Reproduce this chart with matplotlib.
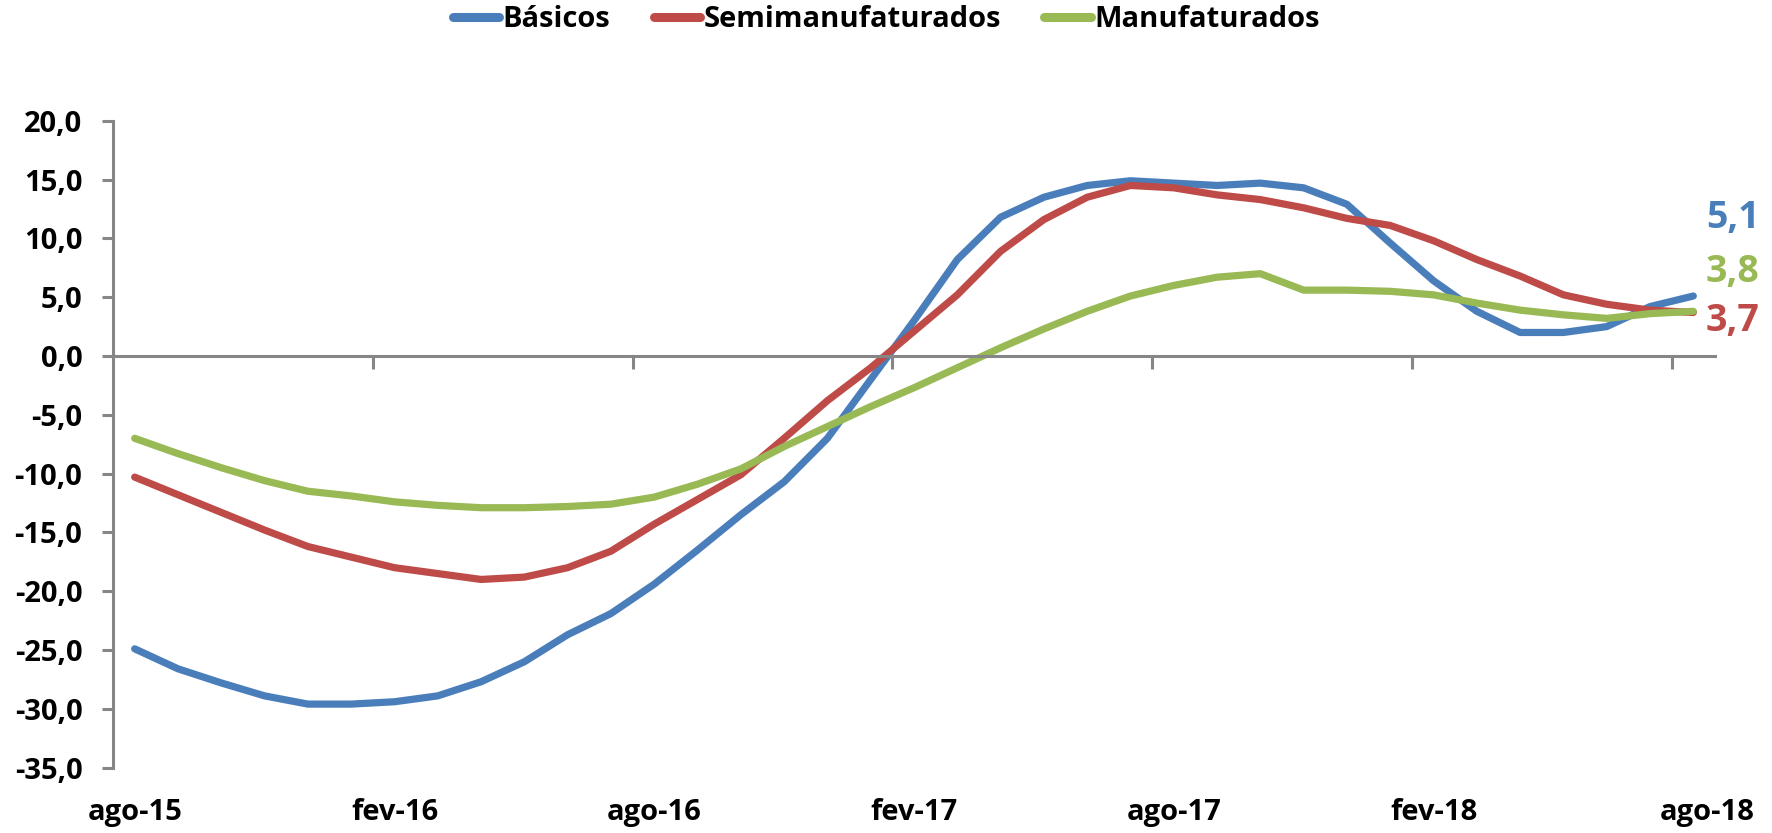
import matplotlib
matplotlib.use("Agg")
import matplotlib.pyplot as plt
from matplotlib.transforms import ScaledTranslation

# nomes das séries e cores (estilo Excel)
series_names = ["Básicos", "Semimanufaturados", "Manufaturados"]
series_colors = ["#4A7EBB", "#BE4B48", "#98B954"]

# meses de ago-15 a ago-18
meses = ["ago-15", "set-15", "out-15", "nov-15", "dez-15", "jan-16",
         "fev-16", "mar-16", "abr-16", "mai-16", "jun-16", "jul-16",
         "ago-16", "set-16", "out-16", "nov-16", "dez-16", "jan-17",
         "fev-17", "mar-17", "abr-17", "mai-17", "jun-17", "jul-17",
         "ago-17", "set-17", "out-17", "nov-17", "dez-17", "jan-18",
         "fev-18", "mar-18", "abr-18", "mai-18", "jun-18", "jul-18",
         "ago-18"]

basicos = [-24.9, -26.6, -27.8, -28.9, -29.6, -29.6, -29.4, -28.9, -27.7, -26.0,
           -23.7, -21.9, -19.4, -16.5, -13.5, -10.7, -7.0, -2.0, 3.0, 8.2,
           11.8, 13.5, 14.5, 14.9, 14.7, 14.5, 14.7, 14.3, 12.9, 9.6,
           6.4, 3.8, 2.0, 2.0, 2.5, 4.2, 5.1]
semimanufaturados = [-10.3, -11.8, -13.3, -14.8, -16.2, -17.1, -18.0, -18.5, -19.0, -18.8,
                     -18.0, -16.6, -14.3, -12.2, -10.1, -7.0, -3.8, -1.0, 2.1, 5.2,
                     8.9, 11.6, 13.5, 14.5, 14.3, 13.7, 13.3, 12.6, 11.7, 11.1,
                     9.8, 8.2, 6.8, 5.2, 4.4, 3.9, 3.7]
manufaturados = [-7.0, -8.3, -9.5, -10.6, -11.5, -11.9, -12.4, -12.7, -12.9, -12.9,
                 -12.8, -12.6, -12.0, -10.9, -9.6, -7.7, -6.0, -4.3, -2.7, -1.0,
                 0.7, 2.3, 3.8, 5.1, 6.0, 6.7, 7.0, 5.6, 5.6, 5.5,
                 5.2, 4.5, 3.9, 3.5, 3.2, 3.6, 3.8]

y_ticks = [20, 15, 10, 5, 0, -5, -10, -15, -20, -25, -30, -35]

# deslocamento (pontos) dos rótulos finais em relação ao último ponto
label_offsets = [(9, 56), (9, -6), (9, 28)]

plt.rcParams["font.family"] = ["Open Sans", "DejaVu Sans"]
plt.rcParams["font.weight"] = "bold"

AXIS_GRAY = "#868686"

fig = plt.figure(figsize=(17.72, 8.33), dpi=100)
ax = fig.add_axes([0.0638, 0.0785, 0.9040, 0.7765])

x = list(range(len(meses)))
all_series = [basicos, semimanufaturados, manufaturados]
for nome, cor, vals in zip(series_names, series_colors, all_series):
    ax.plot(x, vals, color=cor, lw=5.2, label=nome, solid_capstyle="round",
            solid_joinstyle="round")

ax.set_xlim(-0.5, len(meses) - 0.5)
ax.set_ylim(-35, 20)

# eixo y
ax.set_yticks(y_ticks)
ax.set_yticklabels([f"{v:.1f}".replace(".", ",") for v in y_ticks])
ax.tick_params(axis="y", direction="out", length=8, width=2.2, color=AXIS_GRAY,
               labelsize=21, pad=14)
for sp in ["top", "right"]:
    ax.spines[sp].set_visible(False)
ax.spines["left"].set_color(AXIS_GRAY)
ax.spines["left"].set_linewidth(2.2)

# eixo x no zero, marcas entre as categorias a cada 6 meses
ax.spines["bottom"].set_position(("data", 0))
ax.spines["bottom"].set_color(AXIS_GRAY)
ax.spines["bottom"].set_linewidth(2.2)
ax.set_xticks([i - 0.5 for i in range(6, len(meses), 6)])
ax.set_xticklabels([])
ax.tick_params(axis="x", direction="out", length=9, width=2.2, color=AXIS_GRAY)

# rótulos dos meses na parte inferior
sec = ax.secondary_xaxis("bottom")
sec.spines["bottom"].set_visible(False)
sec.set_xticks(x[::6])
sec.set_xticklabels(meses[::6])
sec.tick_params(axis="x", length=0, labelsize=21, pad=22)
# o último rótulo fica um pouco à direita, como no Excel
last = sec.get_xticklabels()[-1]
last.set_transform(last.get_transform() + ScaledTranslation(0.14, 0, fig.dpi_scale_trans))

# valores finais
for nome, cor, vals, off in zip(series_names, series_colors, all_series, label_offsets):
    ax.annotate(f"{vals[-1]:.1f}".replace(".", ","), xy=(x[-1], vals[-1]),
                xytext=off, textcoords="offset points", color=cor,
                fontsize=27, fontweight="bold", ha="left", va="center")

leg = fig.legend(loc="upper center", bbox_to_anchor=(0.5, 1.025), ncol=3,
                 frameon=False, fontsize=21, handlelength=1.6, handletextpad=0.1,
                 columnspacing=1.5)
for line in leg.get_lines():
    line.set_linewidth(6.5)

fig.savefig("out.png", dpi=100)
